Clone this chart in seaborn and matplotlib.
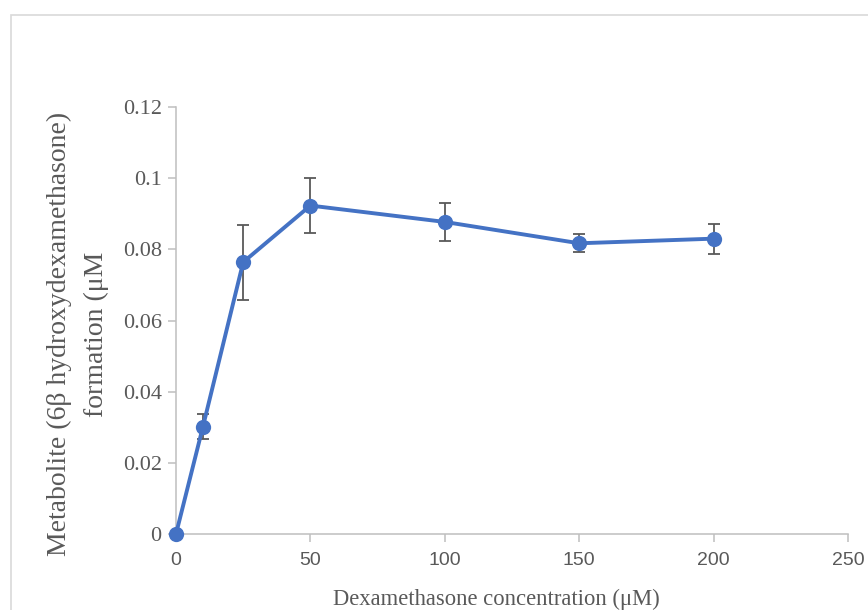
import matplotlib
matplotlib.use("Agg")
import matplotlib.pyplot as plt
from matplotlib.patches import Rectangle
import numpy as np
import pandas as pd
import seaborn as sns

# Dexamethasone concentration (uM) and metabolite formation (uM) with SD
concentration = [0, 10, 25, 50, 100, 150, 200]
metabolite = [0.0, 0.0301, 0.0764, 0.0923, 0.0877, 0.0817, 0.0830]
error = [0.0, 0.0035, 0.0105, 0.0077, 0.0053, 0.0025, 0.0042]

x_ticks = [0, 50, 100, 150, 200, 250]
y_ticks = [0, 0.02, 0.04, 0.06, 0.08, 0.1, 0.12]
y_tick_labels = ["0", "0.02", "0.04", "0.06", "0.08", "0.1", "0.12"]

df = pd.DataFrame({"conc": concentration, "met": metabolite, "err": error})

sns.set_theme(style="white")

LINE = "#4472C4"
AXIS = "#BFBFBF"
TEXT = "#595959"
SERIF = ["Liberation Serif", "DejaVu Serif"]
SANS = ["Liberation Sans", "DejaVu Sans"]

W, H = 868, 610
fig = plt.figure(figsize=(W / 100, H / 100), dpi=100)
fig.patch.set_facecolor("white")

# chart-area frame
fig.patches.append(Rectangle((11 / W, -0.2), 2.0, (H - 15) / H + 0.2,
                             transform=fig.transFigure, fill=False,
                             edgecolor="#D9D9D9", linewidth=1.2, zorder=0))

ax = fig.add_axes([176 / W, (H - 534) / H, (848 - 176) / W, (534 - 107) / H])
ax.set_facecolor("none")

ax.errorbar(df["conc"], df["met"], yerr=df["err"], fmt="none",
            ecolor=TEXT, elinewidth=1.3, capsize=4, capthick=1.3, zorder=2)
sns.lineplot(data=df, x="conc", y="met", ax=ax, color=LINE, linewidth=2.8,
             marker="o", markersize=11, markeredgewidth=0, zorder=3, clip_on=False)

ax.set_xlim(0, 250)
ax.set_ylim(0, 0.12)
ax.set_xticks(x_ticks)
ax.set_xticklabels([str(t) for t in x_ticks], family=SANS, fontsize=14, color=TEXT)
ax.set_yticks(y_ticks)
ax.set_yticklabels(y_tick_labels, family=SERIF, fontsize=16, color=TEXT)

for side in ["top", "right"]:
    ax.spines[side].set_visible(False)
for side in ["left", "bottom"]:
    ax.spines[side].set_color(AXIS)
    ax.spines[side].set_linewidth(1.1)
ax.tick_params(axis="both", direction="out", length=5.8, width=1.1, color=AXIS,
               left=True, bottom=True)
ax.tick_params(axis="x", pad=7)
ax.tick_params(axis="y", pad=4.5)

ax.set_xlabel("")
ax.set_ylabel("")

# axis titles
fig.text(496 / W, (H - 599) / H, "Dexamethasone concentration (μM)",
         family=SERIF, fontsize=16.3, color=TEXT, ha="center", va="center")
fig.text(78 / W, (H - 334) / H, "Metabolite (6β hydroxydexamethasone)\nformation (μM",
         family=SERIF, fontsize=20, color=TEXT, ha="center", va="center",
         rotation=90, multialignment="center", linespacing=1.65)

fig.savefig("out.png", dpi=100, facecolor="white")
